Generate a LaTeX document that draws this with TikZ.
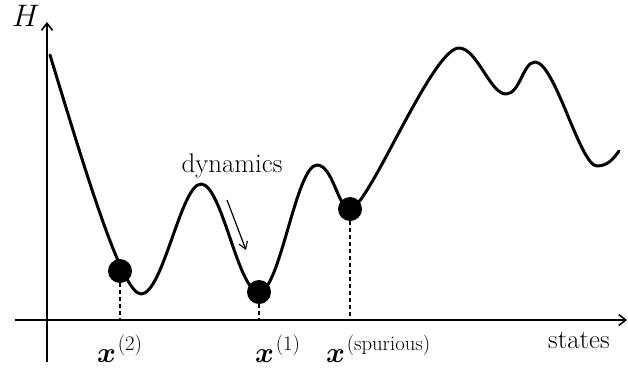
\documentclass[tikz,border=0pt]{standalone}
\usepackage{amsmath}
\usepackage{bm}
\usetikzlibrary{arrows.meta}
\begin{document}
\begin{tikzpicture}[x=1pt,y=-1pt,
  axis/.style={line width=1.8pt,-{Straight Barb[length=7pt,width=11pt,line width=1.6pt]}},
  energy/.style={line width=3pt,line join=round,line cap=round},
  ball/.style={circle,fill=black,draw=none,minimum size=24pt,inner sep=0pt},
  proj/.style={line width=1.4pt,dash pattern=on 4pt off 3pt},
  lbl/.style={font=\fontsize{24.88}{28}\selectfont,inner sep=0pt,scale=1.08},
  xlbl/.style={font=\fontsize{24.88}{28}\selectfont,inner sep=0pt,scale=1.15},
  suplbl/.style={font=\fontsize{17.28}{20}\selectfont,inner sep=0pt,scale=1.2,anchor=base west,xshift=1pt,yshift=10pt},
  dyn/.style={line width=1.2pt,-{Straight Barb[length=7pt,width=9pt,line width=1.1pt]}}]
\useasboundingbox (0,0) rectangle (628,370);
% axes
\coordinate (yb) at (47,362);
\coordinate (yt) at (47,22);
\coordinate (xl) at (15,320);
\coordinate (xr) at (627,320);
\draw[axis] (yb) -- (yt);
\draw[axis] (xl) -- (xr);
\node[font=\fontsize{24.88}{28}\selectfont,scale=1.25,inner sep=0pt,anchor=base] (H) at (26,26) {$H$};
\node[lbl,anchor=base] (states) at (579,348) {states};
% energy landscape
\draw[energy] (50,55) .. controls (85,170) and (122,294) .. (141,294)
  .. controls (163,294) and (181,184) .. (201,184)
  .. controls (222,184) and (238,292) .. (259,292)
  .. controls (280,292) and (296,165) .. (317,165)
  .. controls (333,165) and (338,209) .. (350,209)
  .. controls (368,209) and (432,48) .. (459,48)
  .. controls (477,48) and (490,94) .. (506,94)
  .. controls (520,94) and (523,62) .. (535,62)
  .. controls (555,62) and (580,166) .. (597,166)
  .. controls (608,166) and (614,158) .. (619,151);
% minima
\node[ball] (b2) at (120,271) {};
\node[ball] (b1) at (259,292) {};
\node[ball] (bs) at (350,209) {};
\draw[proj] (b2.south) -- (b2.south |- xl);
\draw[proj] (b1.south) -- (b1.south |- xl);
\draw[proj] (bs.south) -- (bs.south |- xl);
% labels
\node[xlbl,anchor=base west] (l2) at (97,362) {$\bm{x}$};
\node[suplbl] (l2s) at (l2.base east) {(2)};
\node[xlbl,anchor=base west] (l1) at (255,362) {$\bm{x}$};
\node[suplbl] (l1s) at (l1.base east) {(1)};
\node[xlbl,anchor=base west] (ls) at (326,362) {$\bm{x}$};
\node[suplbl] (lss) at (ls.base east) {(spurious)};
% dynamics
\node[lbl,anchor=base] (dynlbl) at (232,172) {dynamics};
\coordinate (da) at (227,200);
\coordinate (db) at (246,250);
\draw[dyn] (da) -- (db);
\end{tikzpicture}
\end{document}
